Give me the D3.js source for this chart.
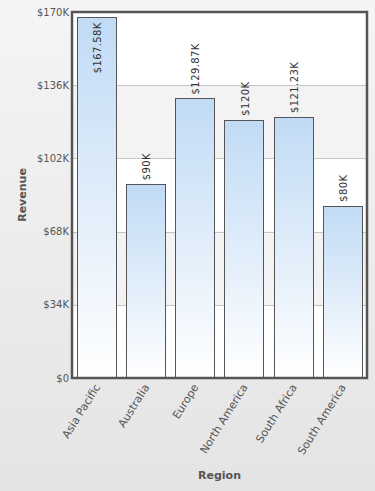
<!DOCTYPE html>
<html>
<head>
<meta charset="utf-8">
<script src="https://cdn.jsdelivr.net/npm/d3@7"></script>
<style>
  html, body { margin: 0; padding: 0; }
  body { width: 375px; height: 491px; overflow: hidden; }
</style>
</head>
<body>
<div id="chart"></div>
<script>
// chart data
const regions = ["Asia Pacific", "Australia", "Europe", "North America", "South Africa", "South America"];
const revenue = [167.58, 90, 129.87, 120, 121.23, 80]; // $K
const yTicks = [0, 34, 68, 102, 136, 170];
const valueLabels = ["$167.58K", "$90K", "$129.87K", "$120K", "$121.23K", "$80K"];

const width = 375, height = 491;
const margin = { left: 72, right: 8, top: 12, bottom: 113 };
const font = "'DejaVu Sans', Verdana, sans-serif";

const svg = d3.select("#chart").append("svg")
    .attr("width", width)
    .attr("height", height);

const defs = svg.append("defs");

const bg = defs.append("linearGradient")
    .attr("id", "bg").attr("x1", 0).attr("y1", 0).attr("x2", 0).attr("y2", 1);
bg.append("stop").attr("offset", "0%").attr("stop-color", "#f5f5f5");
bg.append("stop").attr("offset", "100%").attr("stop-color", "#e4e4e4");

const barGrad = defs.append("linearGradient")
    .attr("id", "barGrad").attr("x1", 0).attr("y1", 0).attr("x2", 0).attr("y2", 1);
barGrad.append("stop").attr("offset", "0%").attr("stop-color", "#c1dbf5");
barGrad.append("stop").attr("offset", "100%").attr("stop-color", "#ffffff");

svg.append("rect")
    .attr("width", width).attr("height", height)
    .attr("fill", "url(#bg)");

const x = d3.scaleBand()
    .domain(regions)
    .range([margin.left, width - margin.right])
    .paddingInner(0.2)
    .paddingOuter(0.1);

const y = d3.scaleLinear()
    .domain([0, 170])
    .range([height - margin.bottom, margin.top]);

const plot = svg.append("g");

// alternating bands
plot.selectAll(".band")
    .data(d3.pairs(yTicks))
    .enter()
    .append("rect")
    .attr("class", "band")
    .attr("x", margin.left)
    .attr("y", d => y(d[1]))
    .attr("width", width - margin.left - margin.right)
    .attr("height", d => y(d[0]) - y(d[1]))
    .attr("fill", (d, i) => i % 2 === 1 ? "#f3f3f3" : "#ffffff");

// grid lines
plot.selectAll(".grid")
    .data(yTicks.slice(1, -1))
    .enter()
    .append("line")
    .attr("x1", margin.left)
    .attr("x2", width - margin.right)
    .attr("y1", d => Math.round(y(d)) + 0.5)
    .attr("y2", d => Math.round(y(d)) + 0.5)
    .attr("stroke", "#c4c4c4")
    .attr("stroke-width", 1);

// bars
plot.selectAll(".bar")
    .data(regions)
    .enter()
    .append("rect")
    .attr("class", "bar")
    .attr("x", d => Math.round(x(d)) + 0.5)
    .attr("y", (d, i) => Math.round(y(revenue[i])) + 0.5)
    .attr("width", Math.round(x.bandwidth()))
    .attr("height", (d, i) => Math.round(y(0)) - Math.round(y(revenue[i])))
    .attr("fill", "url(#barGrad)")
    .attr("stroke", "#555")
    .attr("stroke-width", 1);

// value labels (rotated)
plot.selectAll(".val")
    .data(regions)
    .enter()
    .append("text")
    .attr("class", "val")
    .attr("transform", (d, i) => {
        const cx = x(d) + x.bandwidth() / 2 + 1;
        const top = y(revenue[i]);
        const inside = top - 56 < margin.top;
        return `translate(${cx},${inside ? top + 5 : top - 4}) rotate(-90)`;
    })
    .attr("text-anchor", (d, i) => y(revenue[i]) - 56 < margin.top ? "end" : "start")
    .attr("dy", "0.35em")
    .attr("font-family", font)
    .attr("font-size", "10px")
    .attr("letter-spacing", "0.4px")
    .attr("fill", "#333")
    .text((d, i) => valueLabels[i]);

// plot border
svg.append("rect")
    .attr("x", margin.left)
    .attr("y", margin.top)
    .attr("width", width - margin.left - margin.right)
    .attr("height", height - margin.top - margin.bottom)
    .attr("fill", "none")
    .attr("stroke", "#555")
    .attr("stroke-width", 2.5);

// y axis labels
svg.selectAll(".ytick")
    .data(yTicks)
    .enter()
    .append("text")
    .attr("x", margin.left - 3)
    .attr("y", d => y(d))
    .attr("dy", "0.35em")
    .attr("text-anchor", "end")
    .attr("font-family", font)
    .attr("font-size", "10px")
    .attr("fill", "#555")
    .text(d => d === 0 ? "$0" : `$${d}K`);

// x axis labels
svg.selectAll(".xtick")
    .data(regions)
    .enter()
    .append("text")
    .attr("transform", d => `translate(${x(d) + x.bandwidth() / 2 + 4},${y(0) + 9}) rotate(-58)`)
    .attr("text-anchor", "end")
    .attr("font-family", font)
    .attr("font-size", "11px")
    .attr("fill", "#555")
    .text(d => d);

// axis titles
svg.append("text")
    .attr("x", (margin.left + width - margin.right) / 2)
    .attr("y", 479)
    .attr("text-anchor", "middle")
    .attr("font-family", font)
    .attr("font-size", "11px")
    .attr("font-weight", "bold")
    .attr("fill", "#555")
    .text("Region");

svg.append("text")
    .attr("transform", `translate(26,${(margin.top + height - margin.bottom) / 2}) rotate(-90)`)
    .attr("text-anchor", "middle")
    .attr("font-family", font)
    .attr("font-size", "11px")
    .attr("font-weight", "bold")
    .attr("fill", "#555")
    .text("Revenue");
</script>
</body>
</html>
